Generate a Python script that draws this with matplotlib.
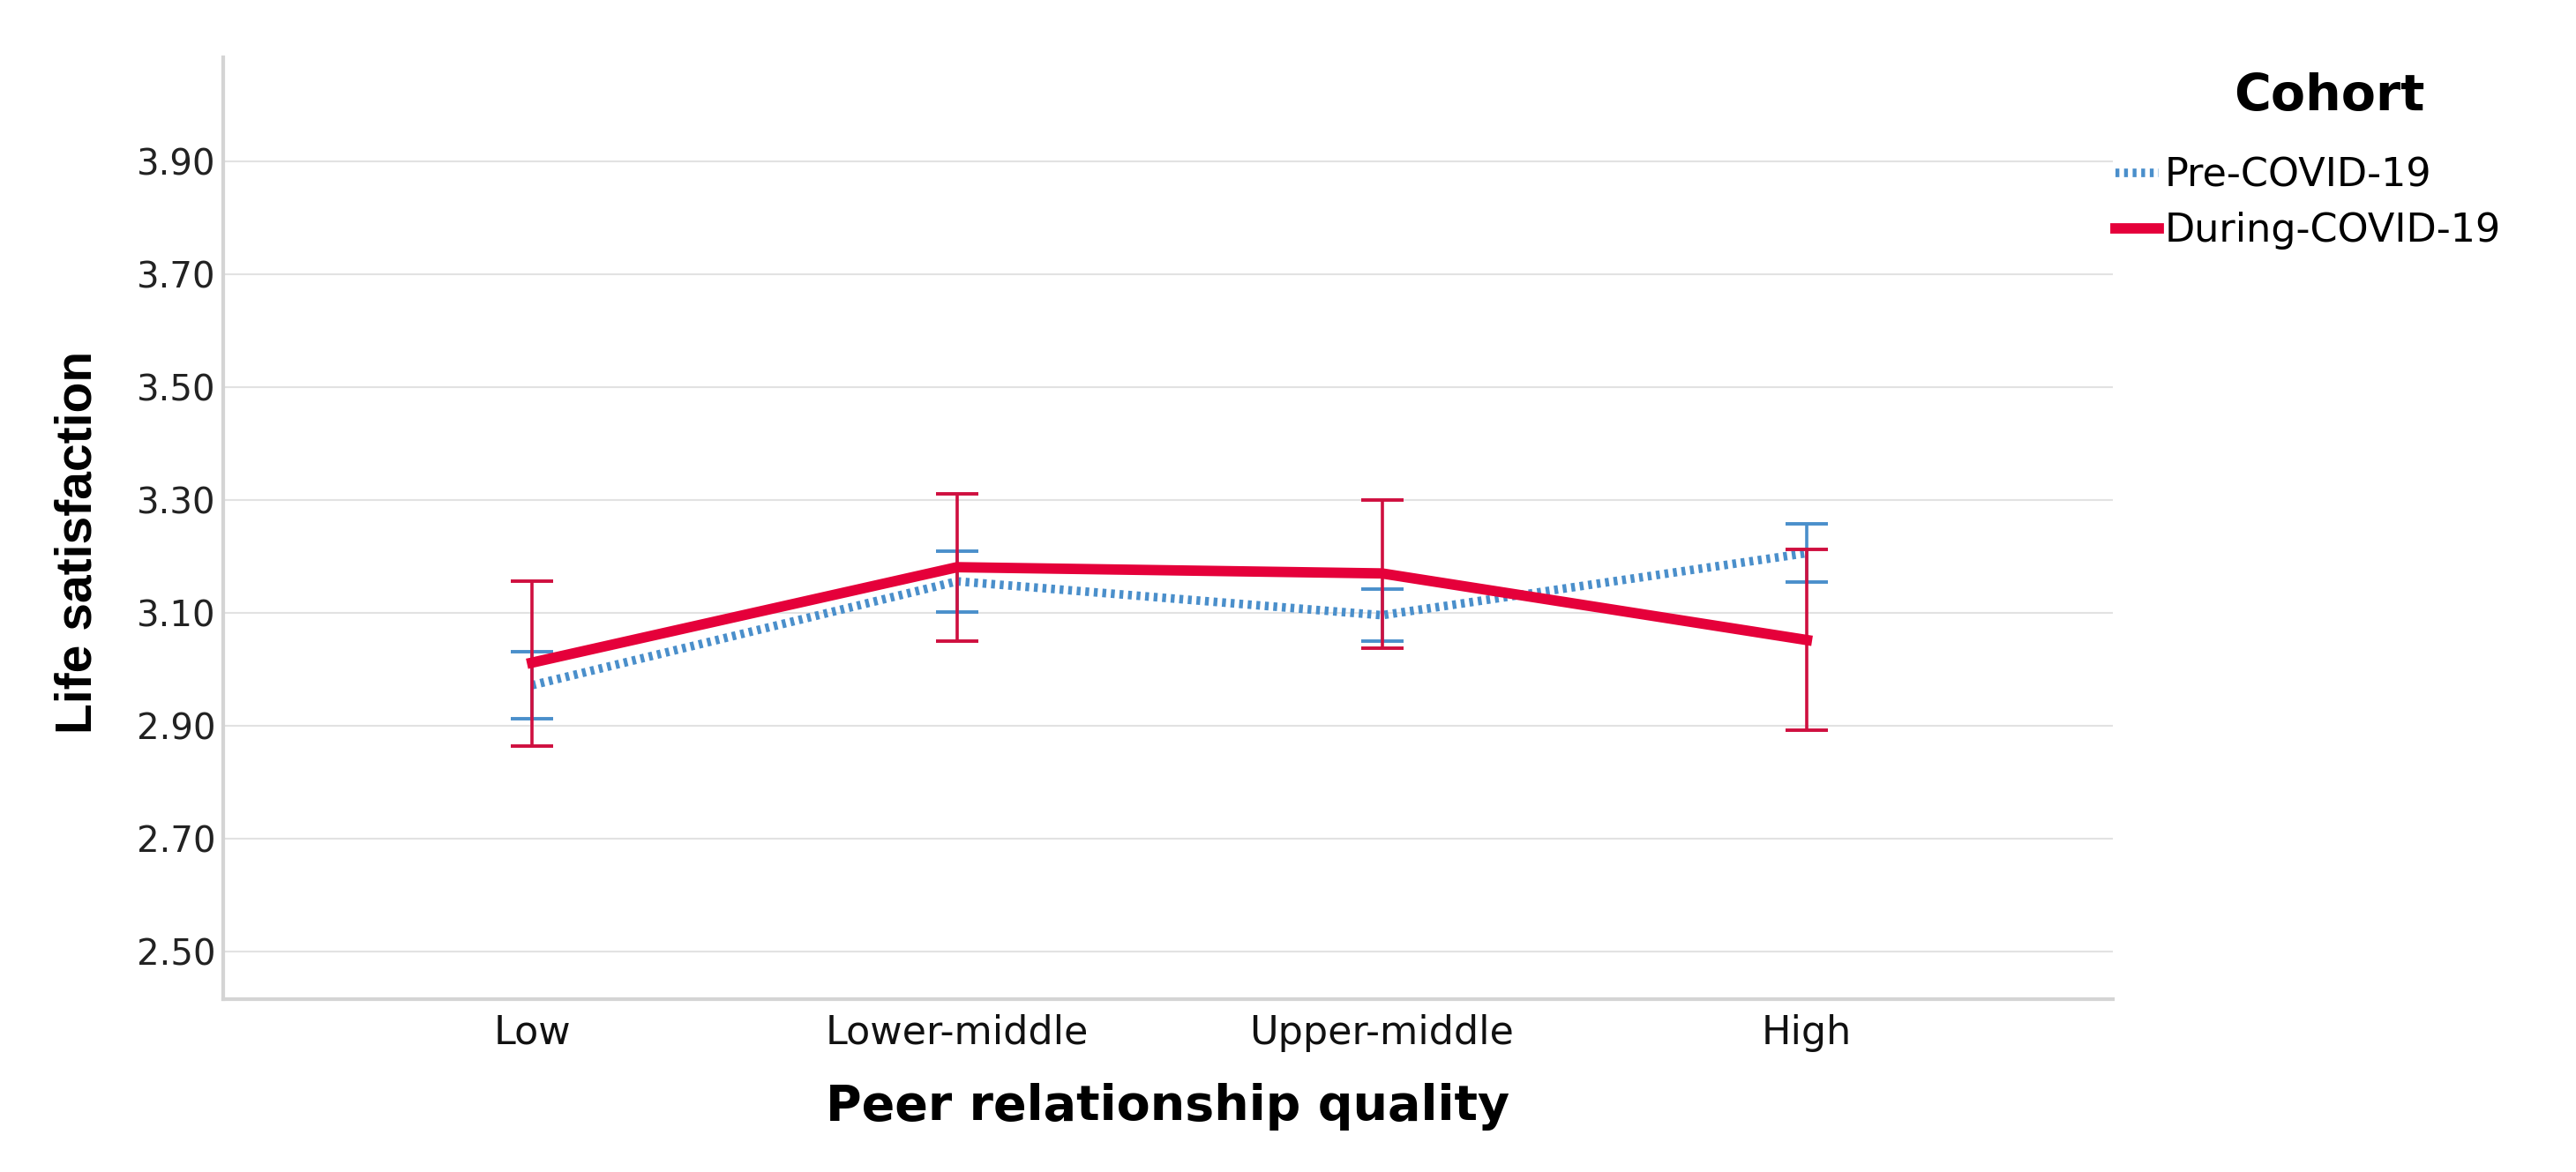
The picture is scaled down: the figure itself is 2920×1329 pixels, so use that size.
import numpy as np
import matplotlib
matplotlib.use("Agg")
from matplotlib import pyplot as plt

# values
categories = ["Low", "Lower-middle", "Upper-middle", "High"]
pre_mean = [2.972, 3.156, 3.096, 3.206]
pre_lower = [2.912, 3.101, 3.050, 3.155]
pre_upper = [3.031, 3.210, 3.142, 3.258]
during_mean = [3.012, 3.181, 3.170, 3.052]
during_lower = [2.865, 3.050, 3.037, 2.892]
during_upper = [3.157, 3.311, 3.300, 3.212]
y_ticks = [2.50, 2.70, 2.90, 3.10, 3.30, 3.50, 3.70, 3.90]

blue = "#4a8fcb"
red_line = "#e5003a"
red_bar = "#cf0f3f"

plt.rcParams["font.family"] = ["DejaVu Sans"]

fig = plt.figure(figsize=(29.2, 13.29), dpi=100)
ax = fig.add_axes([253 / 2920, 1 - 1133 / 1329, (2395 - 253) / 2920, (1133 - 65) / 1329])

x = np.arange(len(categories))

pre_err = [np.array(pre_mean) - np.array(pre_lower), np.array(pre_upper) - np.array(pre_mean)]
dur_err = [np.array(during_mean) - np.array(during_lower), np.array(during_upper) - np.array(during_mean)]

ax.errorbar(x, pre_mean, yerr=pre_err, fmt="none", ecolor=blue, elinewidth=2.6,
            capsize=17, capthick=2.8, zorder=3)
pre_line, = ax.plot(x, pre_mean, color=blue, linewidth=7, linestyle=(0, (0.45, 0.55)),
                    zorder=4, label="Pre-COVID-19")
ax.errorbar(x, during_mean, yerr=dur_err, fmt="none", ecolor=red_bar, elinewidth=2.6,
            capsize=17, capthick=2.8, zorder=5)
dur_line, = ax.plot(x, during_mean, color=red_line, linewidth=8.5, solid_joinstyle="miter",
                    zorder=6, label="During-COVID-19")

ax.set_xlim(-0.727, 3.72)
ax.set_ylim(2.416, 4.084)
ax.set_xticks(x)
ax.set_xticklabels(categories, fontsize=32, color="#111111")
ax.set_yticks(y_ticks)
ax.set_yticklabels(["%.2f" % v for v in y_ticks], fontsize=29, color="#222222")
ax.tick_params(axis="both", length=0)
ax.tick_params(axis="x", pad=12)
ax.tick_params(axis="y", pad=6)

ax.grid(axis="y", color="#e2e2e2", linewidth=1.5)
ax.set_axisbelow(True)
for s in ["top", "right"]:
    ax.spines[s].set_visible(False)
for s in ["left", "bottom"]:
    ax.spines[s].set_color("#d4d4d4")
    ax.spines[s].set_linewidth(3)

ax.set_xlabel("Peer relationship quality", fontsize=40, fontweight="bold", va="top")
ax.xaxis.set_label_coords(0.5, -0.089)
ax.set_ylabel("Life satisfaction", fontsize=41, fontweight="bold",
              family=["Liberation Sans", "DejaVu Sans"], va="center")
ax.yaxis.set_label_coords(-0.0766, 0.485)

fig.text(2640 / 2920, 1 - 110 / 1329, "Cohort", fontsize=41, fontweight="bold",
         ha="center", va="center")
ax.legend(handles=[pre_line, dur_line], loc="upper left",
          bbox_to_anchor=(2398 / 2920, 1 - 178 / 1329), bbox_transform=fig.transFigure,
          frameon=False, fontsize=32, handlelength=1.1, handletextpad=0.15,
          labelspacing=0.43, borderpad=0, borderaxespad=0)

fig.savefig("out.png", dpi=100)
